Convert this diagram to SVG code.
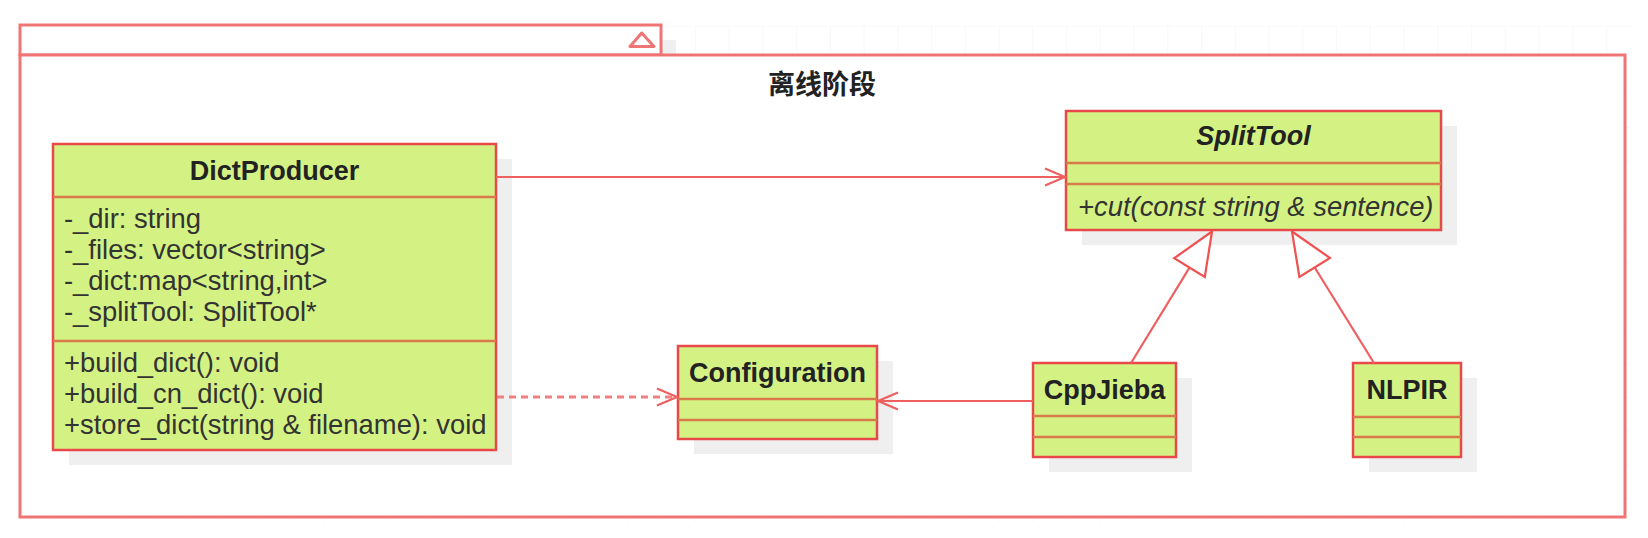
<svg xmlns="http://www.w3.org/2000/svg" width="1648" height="538" viewBox="0 0 1648 538">
<defs>
<style>
.shadow{fill:#efefef;stroke:none}
.box{fill:#d4f283;stroke:#e8484a;stroke-width:2.5}
.sep{stroke:#d97a4a;stroke-width:2.5}
.frame{fill:#ffffff;stroke:#ef7474;stroke-width:3}
.title{font-family:"Liberation Sans",Arial,sans-serif;font-size:27px;font-weight:bold;fill:#222;text-anchor:middle}
.member{font-family:"Liberation Sans",Arial,sans-serif;font-size:27.4px;fill:#333}
.conn{stroke:#ef5f5f;stroke-width:2.2;fill:none}
.dash{stroke:#f08080;stroke-width:3;stroke-dasharray:7 5;fill:none}
.gen{stroke:#ef5050;stroke-width:2.2;fill:#ffffff;stroke-linejoin:miter}
</style>
<pattern id="grid" patternUnits="userSpaceOnUse" x="19.85" y="25.7" width="33.75" height="33.75">
<path d="M0 0 H33.75 M0 0 V33.75" stroke="#f3f3f3" stroke-width="1.2" fill="none"/>
</pattern>
</defs>
<rect width="1648" height="538" fill="#ffffff"/>
<rect x="19.85" y="25.7" width="1610" height="496" fill="url(#grid)"/>
<g id="frame">
<rect x="661" y="40" width="15" height="15" class="shadow"/>
<rect x="20" y="25" width="641" height="30" class="frame"/>
<rect x="20" y="55" width="1605" height="462" class="frame"/>
<polygon points="641.7,33 654,46.5 630,46.5" fill="none" stroke="#ef7474" stroke-width="3" stroke-linejoin="round"/>
<text x="822" y="94" font-family="'Noto Sans CJK SC',sans-serif" font-size="27" font-weight="bold" fill="#222" text-anchor="middle">离线阶段</text>
</g>
<g id="DictProducer">
<rect x="69" y="159" width="443" height="306" class="shadow"/>
<rect x="53" y="144" width="443" height="306" class="box"/>
<line x1="53" y1="197" x2="496" y2="197" class="sep"/>
<line x1="53" y1="341" x2="496" y2="341" class="sep"/>
<text x="274.5" y="180" class="title">DictProducer</text>
<text x="64" y="228" class="member">-_dir: string</text>
<text x="64" y="259" class="member">-_files: vector&lt;string&gt;</text>
<text x="64" y="290" class="member">-_dict:map&lt;string,int&gt;</text>
<text x="64" y="321" class="member">-_splitTool: SplitTool*</text>
<text x="64" y="372" class="member">+build_dict(): void</text>
<text x="64" y="403" class="member">+build_cn_dict(): void</text>
<text x="64" y="434" class="member">+store_dict(string &amp; filename): void</text>
</g>
<g id="SplitTool">
<rect x="1082" y="126" width="375" height="119" class="shadow"/>
<rect x="1066" y="111" width="375" height="119" class="box"/>
<line x1="1066" y1="163" x2="1441" y2="163" class="sep"/>
<line x1="1066" y1="184" x2="1441" y2="184" class="sep"/>
<text x="1253.5" y="145" class="title" font-style="italic">SplitTool</text>
<text x="1078" y="216" class="member" font-style="italic">+cut(const string &amp; sentence)</text>
</g>
<g id="Configuration">
<rect x="694" y="361" width="199" height="93" class="shadow"/>
<rect x="678" y="346" width="199" height="93" class="box"/>
<line x1="678" y1="399" x2="877" y2="399" class="sep"/>
<line x1="678" y1="420" x2="877" y2="420" class="sep"/>
<text x="777.5" y="382" class="title">Configuration</text>
</g>
<g id="CppJieba">
<rect x="1049" y="378" width="143" height="94" class="shadow"/>
<rect x="1033" y="363" width="143" height="94" class="box"/>
<line x1="1033" y1="416" x2="1176" y2="416" class="sep"/>
<line x1="1033" y1="437" x2="1176" y2="437" class="sep"/>
<text x="1104.5" y="399" class="title">CppJieba</text>
</g>
<g id="NLPIR">
<rect x="1369" y="378" width="108" height="94" class="shadow"/>
<rect x="1353" y="363" width="108" height="94" class="box"/>
<line x1="1353" y1="417" x2="1461" y2="417" class="sep"/>
<line x1="1353" y1="437" x2="1461" y2="437" class="sep"/>
<text x="1407" y="399" class="title">NLPIR</text>
</g>
<g id="connectors">
<line x1="496" y1="177" x2="1065" y2="177" class="conn"/>
<polyline points="1045,168.5 1065,177 1045,185.5" class="conn"/>
<line x1="497" y1="397" x2="676" y2="397" class="dash"/>
<polyline points="657,388.5 677,397 657,405.5" class="conn"/>
<line x1="1033" y1="401" x2="878" y2="401" class="conn"/>
<polyline points="898,392.5 878,401 898,409.5" class="conn"/>
<line x1="1189.5" y1="267.6" x2="1131" y2="363" class="conn"/>
<polygon points="1212,231.5 1204.8,277 1174.2,258.2" class="gen"/>
<line x1="1314.7" y1="267.5" x2="1374" y2="363" class="conn"/>
<polygon points="1292,231.5 1330,258 1299.4,277" class="gen"/>
</g>
</svg>
